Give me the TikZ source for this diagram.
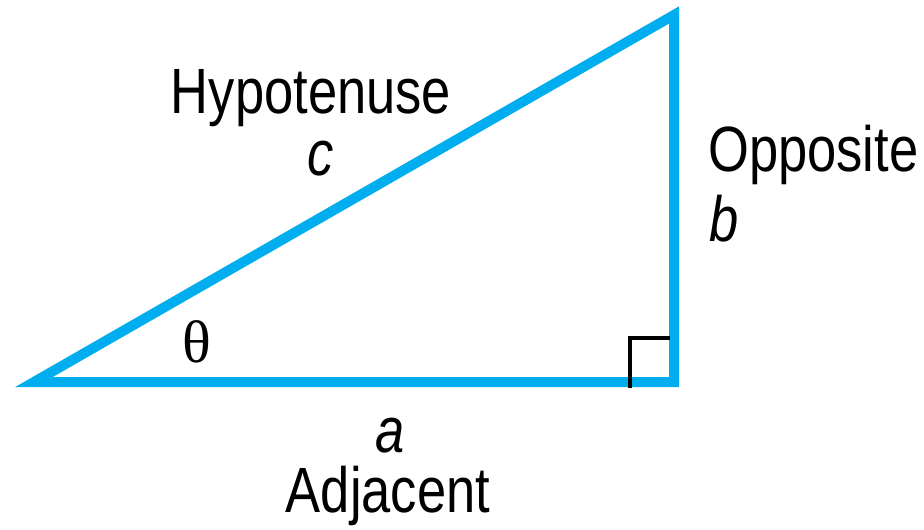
\documentclass[tikz,border=0pt]{standalone}
\usepackage{fontspec}
\setmainfont[FakeStretch=0.82]{Liberation Sans}
\newfontfamily\thetafont{Liberation Serif}
\definecolor{trib}{HTML}{00AEEF}
\begin{document}
\begin{tikzpicture}[x=1pt,y=-1pt,
  lbl/.style={inner sep=0pt,font=\fontsize{64}{64}\selectfont},
  side/.style={draw=trib,line width=10pt,line join=miter,miter limit=10},
  rmark/.style={draw=black,line width=3.5pt}]
\useasboundingbox (0,0) rectangle (924,530);
\coordinate (A) at (34,382);
\coordinate (B) at (674,382);
\coordinate (C) at (674,15);
\draw[side] (A) -- (B) -- (C) -- cycle;
\coordinate (R1) at (630,388);
\coordinate (R2) at (630,338);
\coordinate (R3) at (670,338);
\draw[rmark] (R1) -- (R2) -- (R3);
\node[lbl,anchor=base] (hyp) at (311,113) {Hypotenuse};
\node[lbl,anchor=base] (c) at (321,175) {\itshape c};
\node[lbl,anchor=base west] (opp) at (708,171) {Opposite};
\node[lbl,anchor=base west] (b) at (709,241) {\itshape b};
\node[lbl,anchor=base] (a) at (390,452) {\itshape a};
\node[lbl,anchor=base] (adj) at (388,512) {Adjacent};
\node[inner sep=0pt,anchor=base,font=\fontsize{60}{60}\selectfont\thetafont] (th) at (197,362) {θ};
\end{tikzpicture}
\end{document}
